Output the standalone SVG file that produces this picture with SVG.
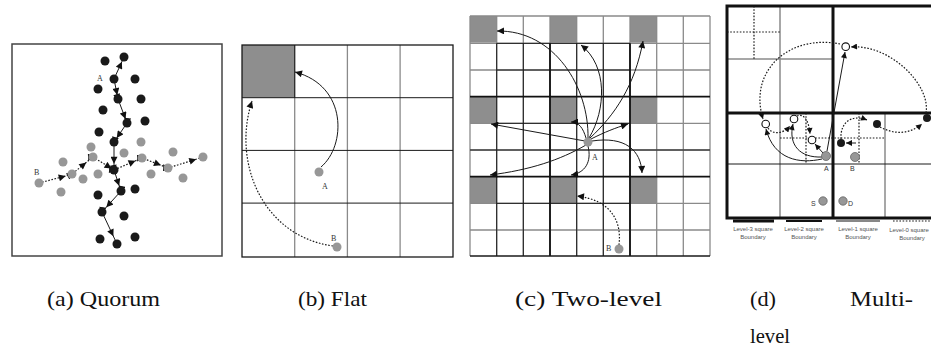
<svg xmlns="http://www.w3.org/2000/svg" width="931" height="361" viewBox="0 0 931 361">
<style>
.bk{fill:#1a1a1a}
.gy{fill:#979797}
.op{fill:#fff;stroke:#111;stroke-width:1.1}
.sl{fill:none;stroke:#1a1a1a;stroke-width:1}
.dl{fill:none;stroke:#1a1a1a;stroke-width:1.2;stroke-dasharray:1.6 1.6}
.lbl{font-family:"Liberation Serif",serif;font-size:8px;fill:#333}
.lbs{font-family:"Liberation Sans",sans-serif;font-size:7px;fill:#333}
.cap{font-family:"Liberation Serif",serif;font-size:22px;fill:#111}
.leg{font-family:"Liberation Sans",sans-serif;font-size:6px;fill:#555;text-anchor:middle}
.gg{stroke:#8a8a8a;stroke-width:1.3;fill:none}
.gb{stroke:#1a1a1a;stroke-width:1;fill:none}
.gk{stroke:#111;stroke-width:1.8;fill:none}
.cell{fill:#8e8e8e}
</style>
<defs>
<marker id="ah" viewBox="0 0 10 10" refX="10" refY="5" markerWidth="8" markerHeight="7" orient="auto" markerUnits="userSpaceOnUse"><path d="M0,0 L10,5 L0,10 z" fill="#111"/></marker>
<marker id="ahm" viewBox="0 0 10 10" refX="7" refY="5" markerWidth="8.5" markerHeight="7" orient="auto" markerUnits="userSpaceOnUse"><path d="M0,0 L10,5 L0,10 z" fill="#111"/></marker>
<marker id="ahs" viewBox="0 0 10 10" refX="10" refY="5" markerWidth="7" markerHeight="6" orient="auto" markerUnits="userSpaceOnUse"><path d="M0,0 L10,5 L0,10 z" fill="#111"/></marker>
</defs>
<rect width="931" height="361" fill="#fff"/>

<!-- Panel (a) Quorum -->
<g id="panel-a">
<rect x="12" y="44" width="210" height="212" fill="none" stroke="#444" stroke-width="1.5"/>
<g id="a-connectors">
<path class="sl" marker-mid="url(#ahm)" d="M114,79 L121,63.6 L124,57"/>
<path class="sl" marker-mid="url(#ahm)" d="M114,79 L116.8,93 L118,99 L124.8,117 L127,123 L117.9,136.3 L114,142 L114,161.6 L114,170 L118.5,183.7 L121,191 L107.7,205.7 L102,212 L112.5,234.4 L117,244"/>
<path class="dl" marker-mid="url(#ahm)" d="M39,183 L63.7,176.5 L72,174 L84.6,163.8 L93,157 L109.8,167.4 L114,170 L133.6,161.6 L142,158 L159,164.5 L168,168 L194.3,159.8 L203,157"/>
</g>
<g id="a-nodes">
<circle class="bk" cx="105" cy="61" r="4.5"/><circle class="bk" cx="124" cy="57" r="4.5"/>
<g id="a-nodeA"><circle class="bk" cx="114" cy="79" r="4.5"/><text class="lbl" x="97" y="81">A</text></g>
<circle class="bk" cx="135" cy="79" r="4.5"/><circle class="bk" cx="98" cy="89" r="4.5"/>
<circle class="bk" cx="118" cy="99" r="4.5"/><circle class="bk" cx="141" cy="99" r="4.5"/>
<circle class="bk" cx="103" cy="110" r="4.5"/><circle class="bk" cx="127" cy="123" r="4.5"/>
<circle class="bk" cx="145" cy="121" r="4.5"/><circle class="bk" cx="99" cy="132" r="4.5"/>
<circle class="bk" cx="114" cy="142" r="4.5"/>
<circle class="gy" cx="91" cy="147" r="4.5"/><circle class="gy" cx="141" cy="142" r="4.5"/>
<circle class="gy" cx="124" cy="153" r="4.5"/><circle class="gy" cx="173" cy="152" r="4.5"/>
<circle class="gy" cx="63" cy="162" r="4.5"/><circle class="gy" cx="93" cy="157" r="4.5"/>
<circle class="gy" cx="142" cy="158" r="4.5"/><circle class="gy" cx="203" cy="157" r="4.5"/>
<circle class="gy" cx="72" cy="174" r="4.5"/><circle class="gy" cx="98" cy="174" r="4.5"/>
<circle class="gy" cx="83" cy="179" r="4.5"/><circle class="gy" cx="168" cy="168" r="4.5"/>
<circle class="gy" cx="151" cy="174" r="4.5"/><circle class="gy" cx="183" cy="178" r="4.5"/>
<g id="a-nodeB"><circle class="gy" cx="39" cy="183" r="4.5"/><text class="lbl" x="34" y="175">B</text></g>
<circle class="gy" cx="61" cy="192" r="4.5"/>
<circle class="bk" cx="114" cy="170" r="4.5"/><circle class="bk" cx="121" cy="191" r="4.5"/>
<circle class="bk" cx="135" cy="189" r="4.5"/><circle class="bk" cx="98" cy="195" r="4.5"/>
<circle class="bk" cx="102" cy="212" r="4.5"/><circle class="bk" cx="124" cy="216" r="4.5"/>
<circle class="bk" cx="100" cy="239" r="4.5"/><circle class="bk" cx="117" cy="244" r="4.5"/>
<circle class="bk" cx="135" cy="237" r="4.5"/>
</g>
</g>

<!-- Panel (b) Flat -->
<g id="panel-b">
<rect class="cell" x="242" y="45" width="52.7" height="52.7"/>
<g class="gg">
<line x1="294.7" y1="45" x2="294.7" y2="257"/><line x1="347.4" y1="45" x2="347.4" y2="257"/><line x1="400.1" y1="45" x2="400.1" y2="257"/>
</g>
<g class="gb">
<line x1="242" y1="97.7" x2="453" y2="97.7"/><line x1="242" y1="150.4" x2="453" y2="150.4"/><line x1="242" y1="203.1" x2="453" y2="203.1"/>
<line x1="294.7" y1="45" x2="294.7" y2="97.7"/>
</g>
<rect x="242" y="45" width="211" height="212" fill="none" stroke="#1a1a1a" stroke-width="1.3"/>
<g id="b-connectors">
<path class="sl" marker-end="url(#ah)" d="M321,167 C346,146 348,86 295,72"/>
<path class="dl" marker-end="url(#ah)" d="M333,246 C262,236 232,162 252,101"/>
</g>
<g id="b-nodeA"><circle class="gy" cx="319" cy="172" r="4.5"/><text class="lbl" x="322" y="189">A</text></g>
<g id="b-nodeB"><circle class="gy" cx="337" cy="247" r="4.5"/><text class="lbl" x="331" y="241">B</text></g>
</g>

<!-- Panel (c) Two-level -->
<g id="panel-c">
<rect class="cell" x="470" y="16" width="26.7" height="26.7"/><rect class="cell" x="550" y="16" width="26.7" height="26.7"/><rect class="cell" x="630" y="16" width="26.7" height="26.7"/>
<rect class="cell" x="470" y="96.7" width="26.7" height="26.7"/><rect class="cell" x="550" y="96.7" width="26.7" height="26.7"/><rect class="cell" x="630" y="96.7" width="26.7" height="26.7"/>
<rect class="cell" x="470" y="176.7" width="26.7" height="26.7"/><rect class="cell" x="550" y="176.7" width="26.7" height="26.7"/><rect class="cell" x="630" y="176.7" width="26.7" height="26.7"/>
<g class="gg">
<line x1="470" y1="16" x2="470" y2="256"/><line x1="496.7" y1="16" x2="496.7" y2="256"/><line x1="523.3" y1="16" x2="523.3" y2="256"/><line x1="550" y1="16" x2="550" y2="256"/><line x1="576.7" y1="16" x2="576.7" y2="256"/><line x1="603.3" y1="16" x2="603.3" y2="256"/><line x1="630" y1="16" x2="630" y2="256"/><line x1="656.7" y1="16" x2="656.7" y2="256"/><line x1="683.3" y1="16" x2="683.3" y2="256"/><line x1="710" y1="16" x2="710" y2="256"/>
<line x1="470" y1="16" x2="710" y2="16"/><line x1="470" y1="43.3" x2="710" y2="43.3"/><line x1="470" y1="70" x2="710" y2="70"/><line x1="470" y1="123.3" x2="710" y2="123.3"/><line x1="470" y1="150" x2="710" y2="150"/><line x1="470" y1="203.3" x2="710" y2="203.3"/><line x1="470" y1="230" x2="710" y2="230"/>
</g>
<g class="gb">
<line x1="496.7" y1="43.3" x2="496.7" y2="256"/><line x1="523.3" y1="43.3" x2="523.3" y2="256"/><line x1="576.7" y1="43.3" x2="576.7" y2="256"/><line x1="603.3" y1="43.3" x2="603.3" y2="256"/>
<line x1="496.7" y1="43.3" x2="630" y2="43.3"/><line x1="496.7" y1="70" x2="630" y2="70"/><line x1="496.7" y1="123.3" x2="630" y2="123.3"/><line x1="470" y1="150" x2="710" y2="150"/><line x1="496.7" y1="203.3" x2="630" y2="203.3"/>
</g>
<g class="gk">
<line x1="550" y1="43.3" x2="550" y2="256"/><line x1="630" y1="43.3" x2="630" y2="256"/>
<line x1="470" y1="96.7" x2="710" y2="96.7"/><line x1="470" y1="176.7" x2="710" y2="176.7"/>
</g>
<line x1="470" y1="256" x2="710" y2="256" stroke="#1a1a1a" stroke-width="1.3"/>
<g id="c-connectors">
<path class="sl" marker-end="url(#ah)" d="M588,138 C589,88 555,30 497,31"/>
<path class="sl" marker-end="url(#ah)" d="M589,138 C606,110 608,66 581,45"/>
<path class="sl" marker-end="url(#ah)" d="M590,138 C615,115 635,85 643,41"/>
<path class="sl" marker-end="url(#ah)" d="M585,141 L491,124"/>
<path class="sl" marker-end="url(#ah)" d="M586,138 C583,128 579,122 571,122"/>
<path class="sl" marker-end="url(#ah)" d="M591,139 C605,132 615,128 628,124"/>
<path class="sl" marker-end="url(#ah)" d="M592,141 C625,136 641,150 642,173"/>
<path class="sl" marker-end="url(#ah)" d="M586,145 C560,160 530,170 490,175"/>
<path class="sl" marker-end="url(#ah)" d="M588,146 C592,162 585,173 571,175"/>
<path class="dl" marker-end="url(#ah)" d="M619,245 C622,220 610,200 577,196"/>
</g>
<g id="c-nodeA"><circle class="gy" cx="588" cy="142" r="4.5"/><text class="lbl" x="592" y="160">A</text></g>
<g id="c-nodeB"><circle class="gy" cx="619" cy="249" r="4.5"/><text class="lbl" x="606" y="251">B</text></g>
</g>

<!-- Panel (d) Multi-level -->
<g id="panel-d">
<g stroke="#8a8a8a" stroke-width="1.5" fill="none">
<line x1="780" y1="6" x2="780" y2="218"/><line x1="727" y1="59" x2="833" y2="59"/><line x1="885" y1="113" x2="885" y2="218"/>
</g>
<line x1="727" y1="164" x2="931" y2="164" stroke="#1a1a1a" stroke-width="1"/>
<g class="dl">
<line x1="727" y1="32" x2="780" y2="32"/><line x1="754" y1="6" x2="754" y2="59"/>
<line x1="806" y1="113" x2="806" y2="164"/><line x1="780" y1="138" x2="885" y2="138"/><line x1="859" y1="113" x2="859" y2="164"/>
</g>
<g stroke="#111" stroke-width="3" fill="none">
<rect x="727" y="6" width="212" height="212"/>
<line x1="833" y1="6" x2="833" y2="218"/><line x1="727" y1="113" x2="939" y2="113"/>
</g>
<g id="d-connectors">
<path class="sl" marker-end="url(#ahs)" d="M827,151 L845,52"/>
<path class="sl" marker-end="url(#ahs)" d="M822,159 C800,164 774,160 766,129"/>
<path class="sl" marker-end="url(#ahs)" d="M822,157 C800,158 788,145 793,124"/>
<path class="sl" marker-end="url(#ahs)" d="M823,153 L815,144"/>
<path class="sl" marker-end="url(#ahs)" d="M856,143 L846,143"/>
<path class="dl" marker-end="url(#ahs)" d="M840,44 C790,34 748,70 763,119"/>
<path class="dl" marker-end="url(#ahs)" d="M926,113 C931,85 890,44 851,47"/>
<path class="dl" marker-end="url(#ahs)" d="M768,128 C773,135 783,134 790,126"/>
<path class="dl" marker-end="url(#ahs)" d="M797,116 C804,113 809,121 810,134"/>
<path class="dl" marker-end="url(#ahs)" d="M841,139 C840,122 852,114 867,120"/>
<path class="dl" marker-end="url(#ahs)" d="M880,127 C895,135 910,134 922,124"/>
</g>
<g id="d-nodes">
<circle class="op" cx="845.7" cy="46.7" r="3.8"/>
<circle class="op" cx="765.7" cy="124" r="3.8"/>
<circle class="op" cx="794" cy="119" r="3.8"/>
<circle class="op" cx="812" cy="140" r="3.8"/>
<circle class="bk" cx="841" cy="143" r="4"/>
<circle class="bk" cx="877" cy="124" r="4"/>
<circle class="bk" cx="927" cy="118" r="4"/>
<g id="d-nodeA"><circle class="gy" cx="826" cy="156" r="4.5" stroke="#666" stroke-width="0.8"/><text class="lbs" x="824" y="171">A</text></g>
<g id="d-nodeB"><circle class="gy" cx="855" cy="157" r="4.5" stroke="#666" stroke-width="0.8"/><text class="lbs" x="850" y="171">B</text></g>
<g id="d-nodeS"><circle class="gy" cx="823" cy="201" r="4.2" stroke="#666" stroke-width="0.8"/><text class="lbs" x="811" y="206">S</text></g>
<g id="d-nodeD"><circle class="gy" cx="843" cy="201" r="4.2" stroke="#666" stroke-width="0.8"/><text class="lbs" x="848" y="206">D</text></g>
</g>
<g id="d-legend">
<line x1="733" y1="221" x2="774" y2="221" stroke="#111" stroke-width="3"/>
<line x1="786" y1="221" x2="822" y2="221" stroke="#111" stroke-width="2"/>
<line x1="836" y1="221" x2="880" y2="221" stroke="#111" stroke-width="1"/>
<line x1="893" y1="221" x2="931" y2="221" class="dl"/>
<text class="leg" x="753" y="231">Level-3 square</text><text class="leg" x="753" y="239">Boundary</text>
<text class="leg" x="804" y="231">Level-2 square</text><text class="leg" x="804" y="239">Boundary</text>
<text class="leg" x="858" y="231">Level-1 square</text><text class="leg" x="858" y="239">Boundary</text>
<text class="leg" x="909" y="232">Level-0 square</text><text class="leg" x="912" y="240">Boundary</text>
</g>
</g>

<!-- Captions -->
<g id="captions">
<text class="cap" x="47" y="306" textLength="113" lengthAdjust="spacingAndGlyphs">(a) Quorum</text>
<text class="cap" x="298" y="306" textLength="69" lengthAdjust="spacingAndGlyphs">(b) Flat</text>
<text class="cap" x="515" y="306" textLength="147" lengthAdjust="spacingAndGlyphs">(c) Two-level</text>
<text class="cap" x="750" y="306" textLength="26" lengthAdjust="spacingAndGlyphs">(d)</text>
<text class="cap" x="850" y="306" textLength="63" lengthAdjust="spacingAndGlyphs">Multi-</text>
<text class="cap" x="750" y="343" textLength="40" lengthAdjust="spacingAndGlyphs">level</text>
</g>
</svg>
